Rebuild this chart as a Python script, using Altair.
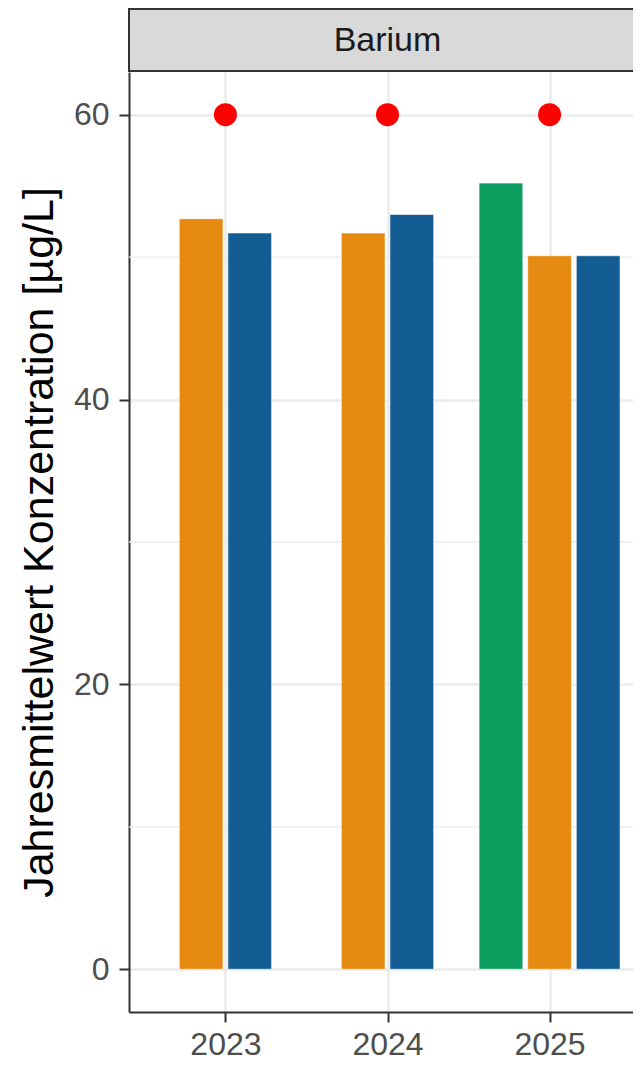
import altair as alt
import pandas as pd

# ---- data ----
years = [2023, 2023, 2024, 2024, 2025, 2025, 2025]
series = ["Messstelle B", "Messstelle C", "Messstelle B", "Messstelle C",
          "Messstelle A", "Messstelle B", "Messstelle C"]
values = [52.7, 51.7, 51.7, 53.0, 55.2, 50.1, 50.1]

limit_years = [2023, 2024, 2025]
limit_values = [60, 60, 60]

series_order = ["Messstelle A", "Messstelle B", "Messstelle C"]
series_colors = ["#0B9E5F", "#E78A11", "#135D94"]

x_ticks = [2023, 2024, 2025]
y_ticks = [0, 20, 40, 60]
y_minor = [10, 30, 50]
facet_label = ["Barium"]
y_title = "Jahresmittelwert Konzentration [µg/L]"

# ---- dodge (ggplot position_dodge2, width 0.9) ----
df = pd.DataFrame({"year": years, "series": series, "value": values})
df["n"] = df.groupby("year")["series"].transform("count")
df["i"] = df.groupby("year").cumcount()
slot, bw = 0.3, 0.27
df["xc"] = df["year"] + (df["i"] - (df["n"] - 1) / 2) * slot
df["x0"] = df["xc"] - bw / 2
df["x1"] = df["xc"] + bw / 2

lim = pd.DataFrame({"year": limit_years, "value": limit_values})
minor = pd.DataFrame({"v": y_minor})
strip = pd.DataFrame({"label": facet_label})

# panel is wider than the visible area (cropped on the right like the reference)
W, H = 504, 940
PANEL_W = 517
FONT = "Liberation Sans"
xdom = [2022.405, 2025.595]
ydom = [-3, 63]

xscale = alt.Scale(domain=xdom, nice=False, zero=False, range=[0, PANEL_W])
yscale = alt.Scale(domain=ydom, nice=False, zero=False)

minor_rules = alt.Chart(minor).mark_rule(color="#EBEBEB", strokeWidth=1.3).encode(
    y=alt.Y("v:Q", scale=yscale)
)

bars = alt.Chart(df).mark_bar(stroke="white", strokeWidth=0.6).encode(
    x=alt.X("x0:Q", scale=xscale,
            axis=alt.Axis(values=x_ticks, format="d", title=None, labelPadding=7)),
    x2="x1:Q",
    y=alt.Y("value:Q", scale=yscale,
            axis=alt.Axis(values=y_ticks, title=y_title, labelPadding=10, titlePadding=12)),
    y2=alt.datum(0),
    color=alt.Color("series:N", scale=alt.Scale(domain=series_order, range=series_colors),
                    legend=None),
)

points = alt.Chart(lim).mark_circle(color="#FF0000", opacity=1, size=530).encode(
    x=alt.X("year:Q", scale=xscale),
    y=alt.Y("value:Q", scale=yscale),
)

strip_rect = alt.Chart(strip).mark_rect(
    fill="#D9D9D9", stroke="#333333", strokeWidth=2
).encode(
    x=alt.value(0), x2=alt.value(PANEL_W), y=alt.value(-63), y2=alt.value(-1)
)

strip_text = alt.Chart(strip).mark_text(
    font=FONT, fontSize=34, color="#1A1A1A", baseline="middle", align="center"
).encode(
    x=alt.value(PANEL_W / 2), y=alt.value(-31), text="label:N"
)

chart = alt.layer(minor_rules, bars, points, strip_rect, strip_text).properties(
    width=W, height=H,
    autosize=alt.AutoSizeParams(type="none"),
    padding={"left": 121, "top": 64, "right": 0, "bottom": 52},
).configure_view(
    strokeWidth=0
).configure_axis(
    labelFont=FONT, titleFont=FONT,
    labelFontSize=32, labelColor="#4D4D4D",
    tickColor="#333333", tickWidth=2, tickSize=10,
    domain=True, domainColor="#333333", domainWidth=2,
    grid=True, gridColor="#EBEBEB", gridWidth=2.5,
    titleFontSize=43, titleColor="#000000", titleFontWeight="normal",
)

chart.save("out.html", embed_options={"renderer": "svg", "actions": False})
